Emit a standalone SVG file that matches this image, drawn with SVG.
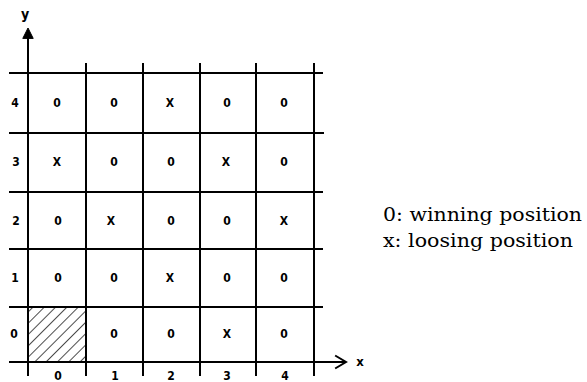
<svg xmlns="http://www.w3.org/2000/svg" width="587" height="382" viewBox="0 0 587 382">
<style>
.g{stroke:#000;stroke-width:2;fill:none;stroke-linecap:square}
.c{font-family:"DejaVu Sans Condensed","DejaVu Sans","Liberation Sans",sans-serif;font-size:12px;font-weight:bold;text-anchor:middle;fill:#000}
.t{font-family:"DejaVu Serif","Liberation Serif",serif;font-size:19px;fill:#000}
</style>
<defs>
<pattern id="hatch" width="8" height="8" patternUnits="userSpaceOnUse" patternTransform="rotate(45)">
<line x1="0" y1="0" x2="0" y2="8" stroke="#000" stroke-width="1.4"/>
</pattern>
</defs>
<rect width="587" height="382" fill="#fff"/>
<g id="hatched-cell">
<rect x="28" y="307" width="58" height="55" fill="url(#hatch)"/>
</g>
<g id="grid" class="g">
<line x1="10" y1="73" x2="322" y2="73"/>
<line x1="10" y1="133" x2="323" y2="133"/>
<line x1="10" y1="192" x2="322" y2="192"/>
<line x1="10" y1="249" x2="322" y2="249"/>
<line x1="10" y1="307" x2="322" y2="307"/>
<line x1="86" y1="64" x2="86" y2="375"/>
<line x1="143" y1="64" x2="143" y2="375"/>
<line x1="200" y1="64" x2="200" y2="375"/>
<line x1="256" y1="64" x2="256" y2="375"/>
<line x1="314" y1="64" x2="314" y2="375"/>
</g>
<g id="axes" class="g">
<line x1="28" y1="36" x2="28" y2="375"/>
<path d="M23,38 L28,28 L33,38 Z" fill="#000" stroke-width="1"/>
<line x1="10" y1="362" x2="344" y2="362"/>
<path d="M336,356 L346,362 L336,368"/>
<text class="c" x="25" y="19" stroke="none" style="font-size:14px">y</text>
<text class="c" x="360" y="366" stroke="none" style="font-size:13px">x</text>
</g>
<g id="row-labels">
<text class="c" x="15" y="107">4</text>
<text class="c" x="16" y="166">3</text>
<text class="c" x="16" y="225">2</text>
<text class="c" x="15" y="282">1</text>
<text class="c" x="14" y="338">0</text>
</g>
<g id="col-labels">
<text class="c" x="58" y="380">0</text>
<text class="c" x="115" y="380">1</text>
<text class="c" x="171" y="380">2</text>
<text class="c" x="227" y="380">3</text>
<text class="c" x="285" y="380">4</text>
</g>
<g id="row4">
<text class="c" x="57" y="107">0</text>
<text class="c" x="114" y="107">0</text>
<text class="c" x="170" y="107">X</text>
<text class="c" x="227" y="107">0</text>
<text class="c" x="284" y="107">0</text>
</g>
<g id="row3">
<text class="c" x="57" y="166">X</text>
<text class="c" x="114" y="166">0</text>
<text class="c" x="171" y="166">0</text>
<text class="c" x="226" y="166">X</text>
<text class="c" x="284" y="166">0</text>
</g>
<g id="row2">
<text class="c" x="58" y="225">0</text>
<text class="c" x="111" y="225">X</text>
<text class="c" x="171" y="225">0</text>
<text class="c" x="227" y="225">0</text>
<text class="c" x="284" y="225">X</text>
</g>
<g id="row1">
<text class="c" x="58" y="282">0</text>
<text class="c" x="114" y="282">0</text>
<text class="c" x="170" y="282">X</text>
<text class="c" x="227" y="282">0</text>
<text class="c" x="284" y="282">0</text>
</g>
<g id="row0">
<text class="c" x="114" y="338">0</text>
<text class="c" x="171" y="338">0</text>
<text class="c" x="227" y="338">X</text>
<text class="c" x="284" y="338">0</text>
</g>
<g id="legend">
<text class="t" x="383" y="221" textLength="199" lengthAdjust="spacingAndGlyphs">0: winning position</text>
<text class="t" x="383" y="247" textLength="190" lengthAdjust="spacingAndGlyphs">x:  loosing position</text>
</g>
</svg>
